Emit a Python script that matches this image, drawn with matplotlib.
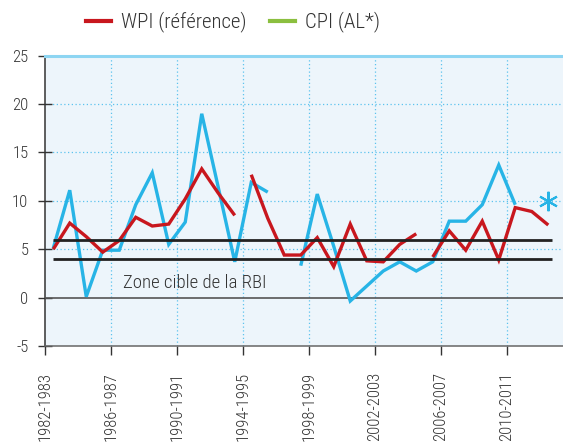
import matplotlib
matplotlib.use("Agg")
import matplotlib.pyplot as plt
from matplotlib import font_manager
from matplotlib.font_manager import FontProperties
from matplotlib.lines import Line2D
import numpy as np

# ---------------- data ----------------
categories = [f"{y}-{y+1}" for y in range(1982, 2014)]
tick_labels = ["1982-1983", "1986-1987", "1990-1991", "1994-1995",
               "1998-1999", "2002-2003", "2006-2007", "2010-2011"]

# WPI (référence) -- three base-year segments
wpi_seg1_start = "1982-1983"
wpi_seg1 = [5.0, 7.7, 6.3, 4.7, 5.9, 8.3, 7.4, 7.6, 10.2, 13.3, 10.8, 8.5]
wpi_seg2_start = "1994-1995"
wpi_seg2 = [12.7, 8.2, 4.4, 4.4, 6.2, 3.2, 7.6, 3.8, 3.7, 5.5, 6.6]
wpi_seg3_start = "2005-2006"
wpi_seg3 = [4.2, 6.9, 4.9, 7.9, 3.9, 9.3, 8.9, 7.5]

# CPI (AL*) -- two segments plus latest point
cpi_seg1_start = "1982-1983"
cpi_seg1 = [5.1, 11.1, 0.1, 4.9, 4.9, 9.6, 12.9, 5.5, 7.8, 19.0, 11.4, 3.7, 11.9, 10.9]
cpi_seg2_start = "1997-1998"
cpi_seg2 = [3.3, 10.7, 5.3, -0.35, 1.2, 2.75, 3.7, 2.75, 3.7, 7.9, 7.9, 9.6, 13.7, 9.6]
cpi_star_cat = "2012-2013"
cpi_star = 10.0

# RBI target zone
zone_low, zone_high = 4.0, 6.0
zone_start, zone_end = "1982-1983", "2012-2013"

# ---------------- font: look for a narrow / condensed sans ----------------
def _w(f):
    w = f.weight
    if isinstance(w, str):
        w = {"ultralight": 200, "light": 300, "normal": 400, "regular": 400,
             "book": 400, "medium": 500, "semibold": 600, "bold": 700}.get(w.lower(), 400)
    return w

def pick_font():
    best, best_score = None, -1e9
    for f in font_manager.fontManager.ttflist:
        nm = f.name
        st = str(f.stretch).lower()
        fn = f.fname.lower()
        narrow = ("narrow" in nm.lower()) or ("condensed" in nm.lower()) or \
                 ("condensed" in st) or ("narrow" in fn) or ("condensed" in fn)
        if not narrow or f.style != "normal" or "italic" in fn:
            continue
        if "extra" in st or "ultra" in st or "extracondensed" in fn.replace("-", ""):
            continue
        w = _w(f)
        if w < 300 or w > 400:
            continue
        score = 0
        if "Liberation" in nm:
            score += 50
        elif "Roboto" in nm:
            score += 40
        elif "Open Sans" in nm:
            score += 35
        elif "Noto Sans" in nm and "CJK" not in nm and "Mono" not in nm:
            score += 30
        elif "DejaVu" in nm:
            score += 5
        if "semi" in st or "semi" in fn:
            score -= 8
        score -= abs(w - 300) / 50.0
        if score > best_score:
            best, best_score = f, score
    return best

fe = pick_font()
if fe is not None:
    def fp(size):
        return FontProperties(fname=fe.fname, size=size)
else:
    def fp(size):
        return FontProperties(family=["Liberation Sans", "DejaVu Sans"], size=size)

plt.rcParams["axes.unicode_minus"] = False

RED = "#c8171e"
BLUE = "#27b4e6"
GREEN = "#8bbf3f"
TXT = "#333333"

fig = plt.figure(figsize=(5.63, 4.43), dpi=100)
W, H = 563, 443
ax = fig.add_axes([45 / W, 1 - 346 / H, (W - 45) / W, (346 - 55.7) / H])
ax.set_facecolor("#edf5fb")

def xpos(start, n):
    i0 = categories.index(start)
    return np.arange(i0, i0 + n) + 0.5

lw = 2.4
for start, vals in [(cpi_seg1_start, cpi_seg1), (cpi_seg2_start, cpi_seg2)]:
    ax.plot(xpos(start, len(vals)), vals, color=BLUE, lw=lw,
            solid_joinstyle="miter", solid_capstyle="butt", zorder=4)
for start, vals in [(wpi_seg1_start, wpi_seg1), (wpi_seg2_start, wpi_seg2),
                    (wpi_seg3_start, wpi_seg3)]:
    ax.plot(xpos(start, len(vals)), vals, color=RED, lw=lw,
            solid_joinstyle="miter", solid_capstyle="butt", zorder=5)

ax.plot([categories.index(cpi_star_cat) + 0.5], [cpi_star], marker=(6, 2, 0),
        markersize=14, markeredgewidth=1.5, color=BLUE, linestyle="none", zorder=6)

zx = [categories.index(zone_start) + 0.5, categories.index(zone_end) + 0.75]
ax.plot(zx, [zone_high, zone_high], color="#222222", lw=2.0, zorder=6,
        solid_capstyle="butt")
ax.plot(zx, [zone_low, zone_low], color="#222222", lw=2.0, zorder=6,
        solid_capstyle="butt")
ax.text(4.71, 0.96, "Zone cible de la RBI", fontproperties=fp(13.5), color=TXT,
        ha="left", va="baseline", zorder=7)

# zero line and top line
ax.axhline(0, color="#555555", lw=1.2, zorder=3)
ax.axhline(25, color="#8dd5f2", lw=2.2, zorder=3, clip_on=False)

ax.set_xlim(0, (W - 45) / 16.5)
ax.set_ylim(-5, 25)

tick_pos = [categories.index(t) for t in tick_labels]
ax.set_xticks(tick_pos)
ax.set_xticklabels(tick_labels, rotation=90, color=TXT)
ax.set_yticks([-5, 0, 5, 10, 15, 20, 25])
ax.set_yticklabels(["-5", "0", "5", "10", "15", "20", "25"], color=TXT)
for lab in ax.get_xticklabels() + ax.get_yticklabels():
    lab.set_fontproperties(fp(12))

ax.tick_params(axis="x", direction="out", length=6.5, width=1.0, color="#333333", pad=12)
ax.tick_params(axis="y", direction="inout", length=10, width=1.0, color="#333333", pad=7)

for v in [5, 10, 15, 20]:
    ax.axhline(v, color="#5cc3ee", lw=0.9, linestyle=(0, (1, 2)), zorder=1)
for t in tick_pos[1:]:
    ax.axvline(t, color="#5cc3ee", lw=0.9, linestyle=(0, (1, 2)), zorder=1)

for s in ["top", "right"]:
    ax.spines[s].set_visible(False)
ax.spines["left"].set_color("#333333")
ax.spines["left"].set_linewidth(1.1)
ax.spines["bottom"].set_color("#666666")
ax.spines["bottom"].set_linewidth(1.1)

handles = [Line2D([], [], color=RED, lw=3), Line2D([], [], color=GREEN, lw=3)]
leg = fig.legend(handles, ["WPI (référence)", "CPI (AL*)"], ncol=2, frameon=False,
                 loc="center left", bbox_to_anchor=(86 / W, 1 - 22 / H),
                 prop=fp(15), handlelength=1.2, handletextpad=0.5,
                 columnspacing=1.1, borderpad=0, borderaxespad=0)
for t in leg.get_texts():
    t.set_color(TXT)

fig.savefig("out.png", dpi=100)
